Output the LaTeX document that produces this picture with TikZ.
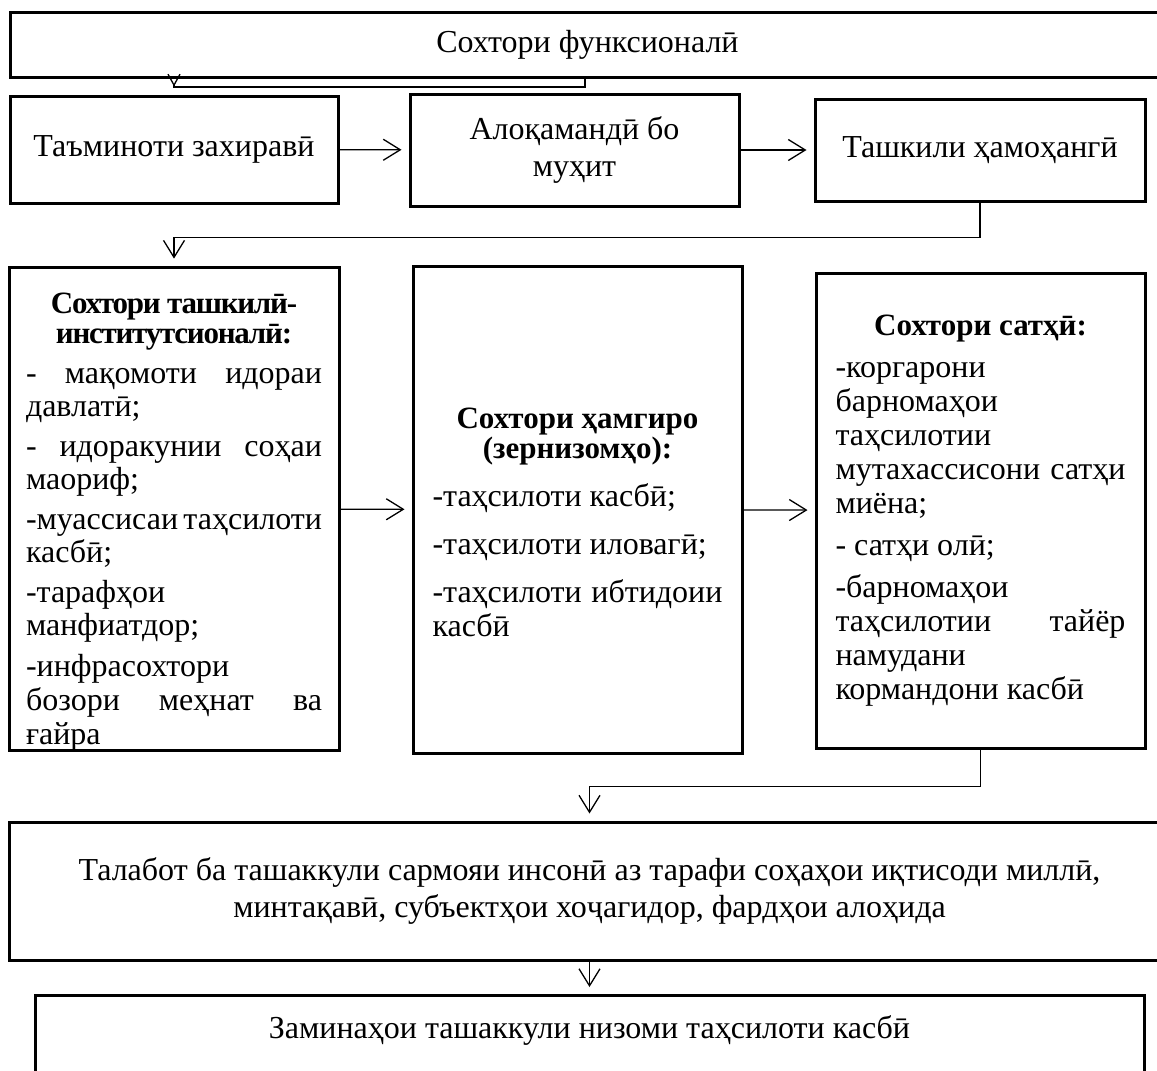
\documentclass[tikz,border=0pt]{standalone}
\usepackage{fontspec}
\setmainfont{Liberation Serif}
\usetikzlibrary{arrows.meta}
\begin{document}
\begin{tikzpicture}[x=1pt,y=-1pt]
\tikzstyle{box}=[draw=black,line width=3pt,inner sep=0pt,align=center,font=\fontsize{32}{37}\selectfont]
\tikzstyle{list}=[box,align=justify,font=\fontsize{32}{34}\selectfont,execute at begin node={\parindent=0pt\parskip=8pt}]
\tikzstyle{arr}=[line width=1.3pt,-{Straight Barb[length=17pt,width=21pt,line width=1.3pt]},shorten >=7pt]
\tikzstyle{smallarr}=[line width=1.3pt,-{Straight Barb[length=11pt,width=12pt,line width=1.3pt]},shorten >=8pt]

\clip (0,0) rectangle (1157,1071);

\node[box,minimum width=1155pt,minimum height=65pt] (func) at (587.5,44.5) {Сохтори функсионалӣ};

\node[box,minimum width=328pt,minimum height=107pt] (res) at (174,149.5) {Таъминоти захиравӣ};
\node[box,minimum width=329pt,minimum height=112pt] (env) at (574.5,150) {Алоқамандӣ бо\\ муҳит};
\node[box,minimum width=330pt,minimum height=102pt] (coord) at (980,150) {Ташкили ҳамоҳангӣ};

\node[list,text width=296pt,minimum width=330pt,minimum height=478pt] (inst) at (174,509) {%
\fontsize{32}{33}\selectfont\parskip=7pt
{\centering\bfseries\fontsize{31}{30}\selectfont\addfontfeature{LetterSpace=-4}\rule{0pt}{46pt}Сохтори ташкилӣ-\linebreak институтсионалӣ:\par}
- мақомоти идораи\linebreak давлатӣ;\par
- идоракунии соҳаи\linebreak маориф;\par
-муассисаи таҳсилоти\linebreak касбӣ;\par
-тарафҳои\newline манфиатдор;\par
-инфрасохтори\newline бозори меҳнат ва\linebreak ғайра};
\node[list,text width=290pt,minimum width=329pt,minimum height=487pt] (integ) at (577.5,509.5) {%
\parskip=14pt
{\centering\bfseries\fontsize{31}{30}\selectfont\rule{0pt}{46pt}Сохтори ҳамгиро\linebreak (зернизомҳо):\par}
-таҳсилоти касбӣ;\par
-таҳсилоти иловагӣ;\par
-таҳсилоти ибтидоии\linebreak касбӣ};
\node[list,text width=290pt,minimum width=329pt,minimum height=475pt] (level) at (980.5,510.5) {%
{\centering\bfseries\fontsize{31}{30}\selectfont Сохтори сатҳӣ:\par}
-коргарони\newline барномаҳои\newline таҳсилотии\newline мутахассисони сатҳи\linebreak миёна;\par
- сатҳи олӣ;\par
-барномаҳои\newline таҳсилотии тайёр\linebreak намудани\newline кормандони касбӣ};

\node[box,minimum width=1161pt,minimum height=138pt] (demand) at (589.5,891) {Талабот ба ташаккули сармояи инсонӣ аз тарафи соҳаҳои иқтисоди миллӣ,\\ минтақавӣ, субъектҳои хоҷагидор, фардҳои алоҳида};
\node[box,minimum width=1109pt,text height=43pt,text depth=120pt,anchor=north] (base) at (589.5,994) {Заминаҳои ташаккули низоми таҳсилоти касбӣ};

\coordinate (t1) at (585,87);
\draw[smallarr] (func.south -| t1) -- (t1) -| (res.north);
\draw[arr] (res) -- (env);
\draw[arr] (env) -- (coord);
\draw[arr] (coord.south) -- ++(0,35) -| (inst.north);
\draw[arr] (inst) -- (integ);
\draw[arr] (integ) -- (level);
\draw[arr] (level.south) -- ++(0,37) -| (demand.north);
\draw[arr] (demand) -- (base);

\end{tikzpicture}
\end{document}
